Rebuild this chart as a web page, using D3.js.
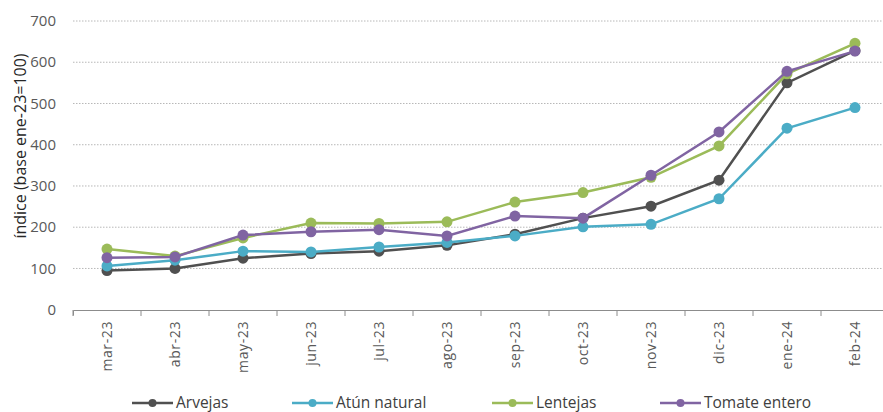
<!DOCTYPE html>
<html><head><meta charset="utf-8">
<script src="https://cdn.jsdelivr.net/npm/d3@7/dist/d3.min.js"></script>
<style>body{margin:0;background:#fff}svg{display:block;font-family:"Open Sans",sans-serif}</style>
</head><body><svg id="c" width="883" height="412"></svg>
<script>
const categories = ["mar-23","abr-23","may-23","jun-23","jul-23","ago-23","sep-23","oct-23","nov-23","dic-23","ene-24","feb-24"];
const arvejas = [95,100,125,136,142,156,183,222,251,314,550,628];
const atun = [106,120,142,140,152,163,179,201,207,269,440,490];
const lentejas = [147,130,174,210,209,213,261,284,321,397,572,646];
const tomate = [126,128,181,189,194,179,227,222,326,431,578,627];
const seriesNames = ["Arvejas","Atún natural","Lentejas","Tomate entero"];
const seriesColors = ["#505050","#4bacc6","#9bbb59","#8064a2"];
const yTicks = [0,100,200,300,400,500,600,700];
const yTitle = "índice (base ene-23=100)";

const seriesData = [arvejas, atun, lentejas, tomate];
const svg = d3.select("#c");
const x = d3.scaleBand().domain(categories).range([73, 889]);
const y = d3.scaleLinear().domain([0,700]).range([309.7, 21]);

// grid
svg.append("g").selectAll("line").data(yTicks.filter(d=>d>0)).join("line")
  .attr("x1",73).attr("x2",883).attr("y1",d=>y(d)).attr("y2",d=>y(d))
  .attr("stroke","#b8b8b8").attr("stroke-width",1).attr("stroke-dasharray","1.5,1.5");

// y labels
svg.append("g").selectAll("text").data(yTicks).join("text")
  .attr("x",56).attr("y",d=>y(d)).attr("dy","0.35em").attr("text-anchor","end")
  .attr("fill","#595959").attr("font-size",15).text(d=>d);

// y title
svg.append("text").attr("transform","translate(26,146) rotate(-90)")
  .attr("text-anchor","middle").attr("fill","#262626").attr("font-size",16).text(yTitle);

// x axis
const xAxis = d3.axisBottom(x).tickSize(6).tickFormat("");
const gx = svg.append("g").attr("transform","translate(0,310)").call(xAxis);
gx.select(".domain").attr("stroke","#8c8c8c").attr("d","M73.5,5.5V0.5H889");
gx.selectAll(".tick line").attr("stroke","#8c8c8c").attr("transform",`translate(${-x.bandwidth()/2},0)`);
svg.append("g").selectAll("text").data(categories).join("text")
  .attr("transform",d=>`translate(${x(d)+x.bandwidth()/2+5},321) rotate(-90)`)
  .attr("text-anchor","end").attr("fill","#595959").attr("font-size",14)
  .attr("letter-spacing","0.6px").text(d=>d);

const cx = d=>x(d)+x.bandwidth()/2;
const line = d3.line().x((d,i)=>cx(categories[i])).y(d=>y(d));
seriesData.forEach((s,k)=>{
  const g = svg.append("g");
  g.append("path").attr("d",line(s)).attr("fill","none").attr("stroke",seriesColors[k]).attr("stroke-width",2.5);
  g.selectAll("circle").data(s).join("circle")
    .attr("cx",(d,i)=>cx(categories[i])).attr("cy",d=>y(d)).attr("r",5.5).attr("fill",seriesColors[k]);
});

// legend
const legX = [132,292,492,660];
const lg = svg.append("g");
seriesNames.forEach((n,k)=>{
  const g = lg.append("g").attr("transform",`translate(${legX[k]},403)`);
  g.append("line").attr("x1",0).attr("x2",41).attr("stroke",seriesColors[k]).attr("stroke-width",2.5);
  g.append("circle").attr("cx",20.5).attr("r",4).attr("fill",seriesColors[k]);
  g.append("text").attr("x",44).attr("dy","0.35em").attr("fill","#404040").attr("font-size",15.5).text(n);
});
</script></body></html>
